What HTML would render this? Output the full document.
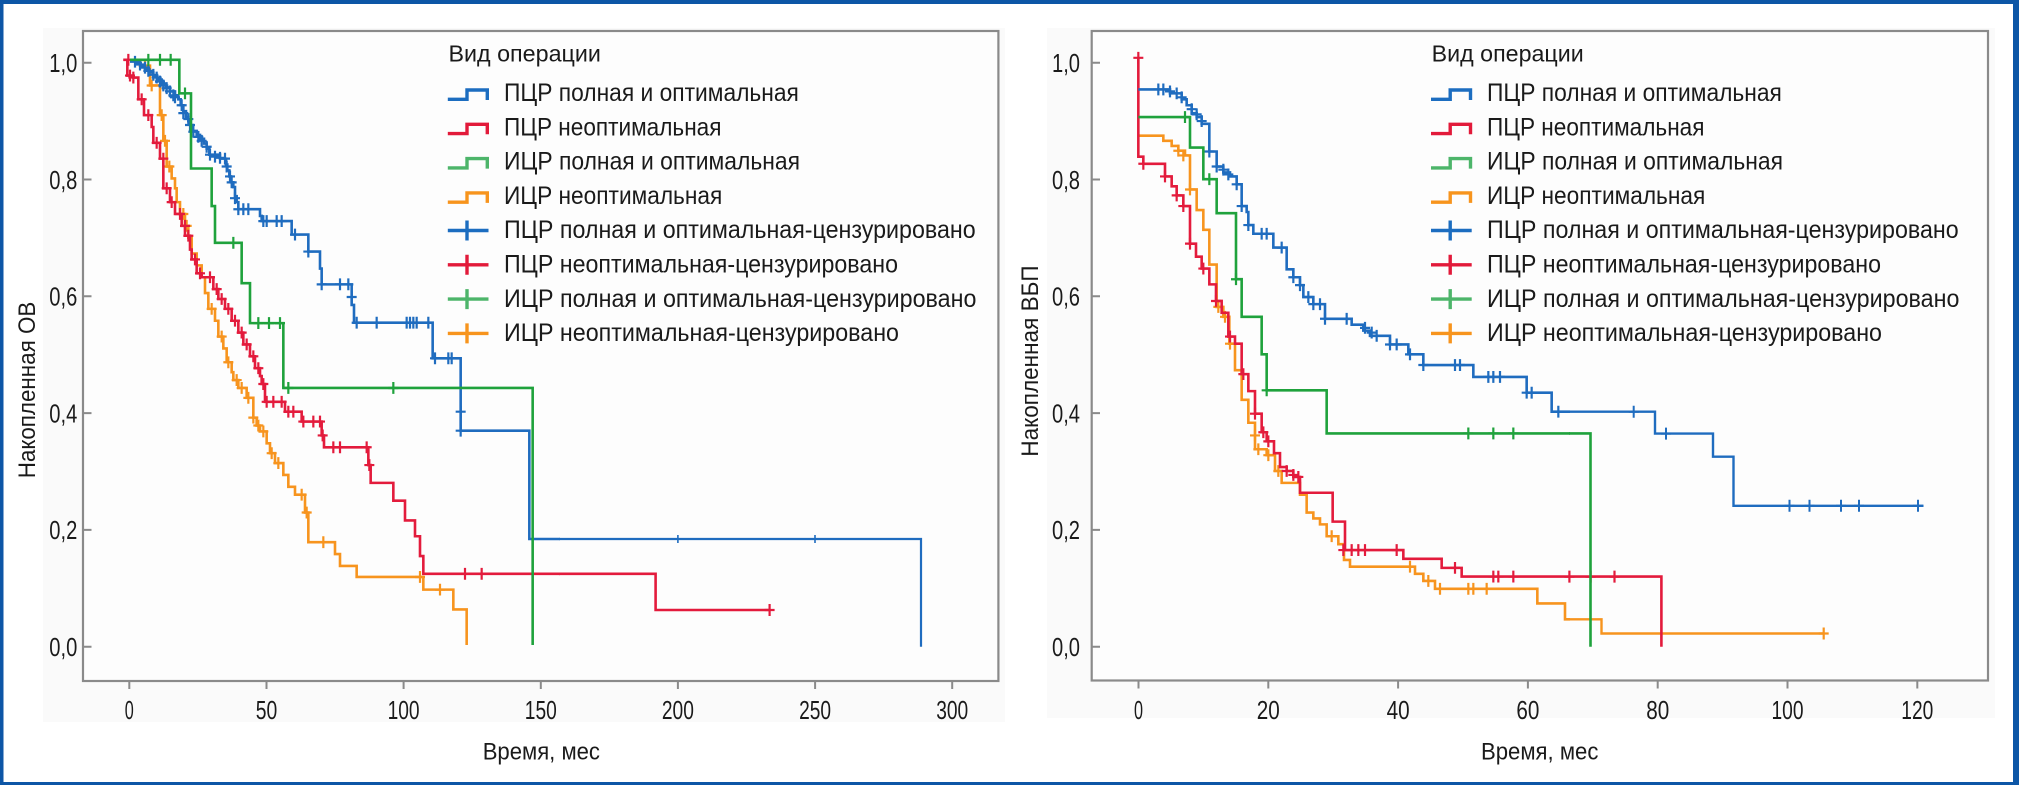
<!DOCTYPE html>
<html><head><meta charset="utf-8"><style>
html,body{margin:0;padding:0;background:#fff;}
body{width:2019px;height:785px;overflow:hidden;}
svg{display:block;}
text{font-family:"Liberation Sans","DejaVu Sans",sans-serif;fill:#1a1a1a;}
.c{fill:none;stroke-linejoin:miter;stroke-linecap:butt;}
</style></head><body>
<svg width="2019" height="785" viewBox="0 0 2019 785" xmlns="http://www.w3.org/2000/svg">
<rect x="0" y="0" width="2019" height="785" fill="#fff"/>
<rect x="43" y="28" width="962" height="694" fill="#fafafa"/>
<rect x="1047" y="28" width="948" height="690" fill="#fafafa"/>

<!-- LEFT CHART -->
<rect x="83" y="31" width="915.4" height="650" fill="#fdfdfd" stroke="#8a8a8a" stroke-width="2.2"/>
<g stroke="#8a8a8a" stroke-width="2">
<path d="M83,62.7H91.5M83,179.5H91.5M83,296.3H91.5M83,413.1H91.5M83,529.9H91.5M83,646.7H91.5"/>
<path d="M129.3,681V689M266.5,681V689M403.6,681V689M540.8,681V689M677.9,681V689M815.1,681V689M952.2,681V689"/>
</g>
<g font-size="26">
<text x="49.3" y="72" textLength="28" lengthAdjust="spacingAndGlyphs">1,0</text>
<text x="49.3" y="188.8" textLength="28" lengthAdjust="spacingAndGlyphs">0,8</text>
<text x="49.3" y="305.6" textLength="28" lengthAdjust="spacingAndGlyphs">0,6</text>
<text x="49.3" y="422.4" textLength="28" lengthAdjust="spacingAndGlyphs">0,4</text>
<text x="49.3" y="539.2" textLength="28" lengthAdjust="spacingAndGlyphs">0,2</text>
<text x="49.3" y="656" textLength="28" lengthAdjust="spacingAndGlyphs">0,0</text>
<text x="124.8" y="719" textLength="9" lengthAdjust="spacingAndGlyphs">0</text>
<text x="255.8" y="719" textLength="21.5" lengthAdjust="spacingAndGlyphs">50</text>
<text x="387.6" y="719" textLength="32" lengthAdjust="spacingAndGlyphs">100</text>
<text x="524.8" y="719" textLength="32" lengthAdjust="spacingAndGlyphs">150</text>
<text x="661.9" y="719" textLength="32" lengthAdjust="spacingAndGlyphs">200</text>
<text x="799.1" y="719" textLength="32" lengthAdjust="spacingAndGlyphs">250</text>
<text x="936.2" y="719" textLength="32" lengthAdjust="spacingAndGlyphs">300</text>
</g>
<text x="482.7" y="759.3" font-size="24" textLength="117.3" lengthAdjust="spacingAndGlyphs">Время, мес</text>
<text transform="translate(35,478.3) rotate(-90)" font-size="24.5" textLength="176.6" lengthAdjust="spacingAndGlyphs">Накопленная ОВ</text>

<g transform="translate(120,40) scale(0.333333,0.395413)">
<path class="c" vector-effect="non-scaling-stroke" stroke="#f7941e" stroke-width="2.6" d="M30,50H60V65H90V115H120V190H130V255H140V320H155V350H165V375H170V410H180V440H195V470H205V500H215V540H230V570H245V600H255V640H265V680H285V710H295V750H310V780H320V815H335V840H340V860H355V880H380V905H400V955H410V975H420V990H440V1020H450V1045H465V1070H490V1100H505V1130H525V1150H555V1195H565V1270H645V1300H660V1330H710V1358H910V1390H1000V1440H1040V1530"/>
<path class="c" vector-effect="non-scaling-stroke" stroke="#f7941e" stroke-width="2.2" d="M75,65m-15,0h30m-15,-15v30M95,115m-15,0h30m-15,-15v30M125,190m-15,0h30m-15,-15v30M135,255m-15,0h30m-15,-15v30M148,320m-15,0h30m-15,-15v30M190,440m-15,0h30m-15,-15v30M200,470m-15,0h30m-15,-15v30M275,680m-15,0h30m-15,-15v30M305,750m-15,0h30m-15,-15v30M325,815m-15,0h30m-15,-15v30M350,860m-15,0h30m-15,-15v30M365,880m-15,0h30m-15,-15v30M385,905m-15,0h30m-15,-15v30M400,955m-15,0h30m-15,-15v30M415,975m-15,0h30m-15,-15v30M430,990m-15,0h30m-15,-15v30M455,1045m-15,0h30m-15,-15v30M475,1070m-15,0h30m-15,-15v30M545,1150m-15,0h30m-15,-15v30M560,1195m-15,0h30m-15,-15v30M610,1270m-15,0h30m-15,-15v30M900,1358m-15,0h30m-15,-15v30M960,1390m-15,0h30m-15,-15v30"/>
<path class="c" vector-effect="non-scaling-stroke" stroke="#e31b3c" stroke-width="2.6" d="M10,50H22V90H40V95H55V150H72V190H95V220H100V260H120V300H130V375H150V410H165V440H185V470H195V495H210V530H215V555H230V590H245V600H280V630H295V655H315V680H335V710H355V740H370V770H390V800H405V830H420V850H425V870H435V915H495V940H545V965H605V1000H612V1030H745V1075H752V1120H820V1165H855V1215H885V1255H900V1305H910V1350H1320"/>
<path class="c" vector-effect="non-scaling-stroke" stroke="#e31b3c" stroke-width="2.2" d="M25,50m-15,0h30m-15,-15v30M30,90m-15,0h30m-15,-15v30M40,95m-15,0h30m-15,-15v30M65,150m-15,0h30m-15,-15v30M85,190m-15,0h30m-15,-15v30M110,260m-15,0h30m-15,-15v30M130,300m-15,0h30m-15,-15v30M140,375m-15,0h30m-15,-15v30M155,410m-15,0h30m-15,-15v30M180,440m-15,0h30m-15,-15v30M195,470m-15,0h30m-15,-15v30M205,495m-15,0h30m-15,-15v30M225,555m-15,0h30m-15,-15v30M240,590m-15,0h30m-15,-15v30M270,600m-15,0h30m-15,-15v30M290,630m-15,0h30m-15,-15v30M305,655m-15,0h30m-15,-15v30M325,680m-15,0h30m-15,-15v30M345,710m-15,0h30m-15,-15v30M365,740m-15,0h30m-15,-15v30M380,770m-15,0h30m-15,-15v30M400,800m-15,0h30m-15,-15v30M415,830m-15,0h30m-15,-15v30M430,870m-15,0h30m-15,-15v30M440,915m-15,0h30m-15,-15v30M460,915m-15,0h30m-15,-15v30M485,915m-15,0h30m-15,-15v30M505,940m-15,0h30m-15,-15v30M520,940m-15,0h30m-15,-15v30M550,965m-15,0h30m-15,-15v30M580,965m-15,0h30m-15,-15v30M600,965m-15,0h30m-15,-15v30M608,1000m-15,0h30m-15,-15v30M640,1030m-15,0h30m-15,-15v30M660,1030m-15,0h30m-15,-15v30M740,1030m-15,0h30m-15,-15v30M748,1075m-15,0h30m-15,-15v30M1035,1350m-15,0h30m-15,-15v30M1085,1350m-15,0h30m-15,-15v30"/>
<path class="c" vector-effect="non-scaling-stroke" stroke="#1f6cbf" stroke-width="2.6" d="M35,50H50V58H62V66H75V74H88V82H100V92H112V100H125V110H138V120H150V130H165V140H175V150H182V165H190V180H198V195H205V205H212V215H218V230H230V240H240V250H252V262H260V275H268V290H300V300H318V315H322V330H328V345H333V360H340V372H345V395H350V410H355V428H420V445H425V458H515V492H565V535H600V578H605V618H695V670H702V715H938V805H1022V988H1228V1262H1320"/>
<path class="c" vector-effect="non-scaling-stroke" stroke="#1f6cbf" stroke-width="2.2" d="M45,55m-15,0h30m-15,-15v30M60,62m-15,0h30m-15,-15v30M75,70m-15,0h30m-15,-15v30M85,78m-15,0h30m-15,-15v30M100,88m-15,0h30m-15,-15v30M110,95m-15,0h30m-15,-15v30M120,105m-15,0h30m-15,-15v30M130,115m-15,0h30m-15,-15v30M140,122m-15,0h30m-15,-15v30M150,130m-15,0h30m-15,-15v30M160,140m-15,0h30m-15,-15v30M165,145m-15,0h30m-15,-15v30M185,165m-15,0h30m-15,-15v30M190,185m-15,0h30m-15,-15v30M205,200m-15,0h30m-15,-15v30M210,215m-15,0h30m-15,-15v30M220,232m-15,0h30m-15,-15v30M235,245m-15,0h30m-15,-15v30M245,255m-15,0h30m-15,-15v30M260,270m-15,0h30m-15,-15v30M270,290m-15,0h30m-15,-15v30M285,295m-15,0h30m-15,-15v30M300,298m-15,0h30m-15,-15v30M315,300m-15,0h30m-15,-15v30M320,320m-15,0h30m-15,-15v30M330,345m-15,0h30m-15,-15v30M335,360m-15,0h30m-15,-15v30M345,400m-15,0h30m-15,-15v30M355,428m-15,0h30m-15,-15v30M370,428m-15,0h30m-15,-15v30M385,428m-15,0h30m-15,-15v30M430,458m-15,0h30m-15,-15v30M440,458m-15,0h30m-15,-15v30M470,458m-15,0h30m-15,-15v30M485,458m-15,0h30m-15,-15v30M525,492m-15,0h30m-15,-15v30M565,535m-15,0h30m-15,-15v30M605,618m-15,0h30m-15,-15v30M660,618m-15,0h30m-15,-15v30M685,618m-15,0h30m-15,-15v30M695,650m-15,0h30m-15,-15v30M710,715m-15,0h30m-15,-15v30M770,715m-15,0h30m-15,-15v30M860,715m-15,0h30m-15,-15v30M870,715m-15,0h30m-15,-15v30M880,715m-15,0h30m-15,-15v30M890,715m-15,0h30m-15,-15v30M925,715m-15,0h30m-15,-15v30M945,805m-15,0h30m-15,-15v30M985,805m-15,0h30m-15,-15v30M995,805m-15,0h30m-15,-15v30M1022,940m-15,0h30m-15,-15v30M1022,988m-15,0h30m-15,-15v30"/>
<path class="c" vector-effect="non-scaling-stroke" stroke="#1fa23c" stroke-width="2.6" d="M30,50H178V135H213V325H275V420H285V513H365V615H390V716H490V880H1238V1530"/>
<path class="c" vector-effect="non-scaling-stroke" stroke="#1fa23c" stroke-width="2.2" d="M85,50m-15,0h30m-15,-15v30M120,50m-15,0h30m-15,-15v30M152,50m-15,0h30m-15,-15v30M195,135m-15,0h30m-15,-15v30M340,513m-15,0h30m-15,-15v30M415,716m-15,0h30m-15,-15v30M447,716m-15,0h30m-15,-15v30M480,716m-15,0h30m-15,-15v30M505,880m-15,0h30m-15,-15v30M820,880m-15,0h30m-15,-15v30"/>
</g>
<!-- left tails -->
<path class="c" stroke="#1f6cbf" stroke-width="2.2" d="M559,539H921V646.7"/>
<path class="c" stroke="#1f6cbf" stroke-width="1.6" d="M677.9,535V543M815,535V543"/>
<path class="c" stroke="#e31b3c" stroke-width="2.6" d="M559,573.8H655.6V610H769.6"/>
<path class="c" stroke="#e31b3c" stroke-width="2.2" d="M764.6,610H774.6M769.6,604V616"/>

<!-- LEFT LEGEND -->
<text x="448.5" y="61.7" font-size="23" textLength="152.4" lengthAdjust="spacingAndGlyphs">Вид операции</text>
<g class="c" stroke-width="3.4">
<path stroke="#1c6dc0" d="M447.8,99.3H467V90H487.3V100"/>
<path stroke="#e21a3a" d="M447.8,133.6H467V124.3H487.3V134.3"/>
<path stroke="#4db56a" d="M447.8,167.9H467V158.6H487.3V168.6"/>
<path stroke="#f7941d" d="M447.8,202.2H467V192.9H487.3V202.9"/>
<path stroke="#1c6dc0" d="M447.8,230.5H488.5M467,220.5V240.5"/>
<path stroke="#e21a3a" d="M447.8,264.8H488.5M467,254.8V274.8"/>
<path stroke="#4db56a" d="M447.8,299.1H488.5M467,289.1V309.1"/>
<path stroke="#f7941d" d="M447.8,333.4H488.5M467,323.4V343.4"/>
</g>
<g font-size="25">
<text x="504" y="101" textLength="294.9" lengthAdjust="spacingAndGlyphs">ПЦР полная и оптимальная</text>
<text x="504" y="135.3" textLength="217.5" lengthAdjust="spacingAndGlyphs">ПЦР неоптимальная</text>
<text x="504" y="169.6" textLength="296" lengthAdjust="spacingAndGlyphs">ИЦР полная и оптимальная</text>
<text x="504" y="203.9" textLength="218.3" lengthAdjust="spacingAndGlyphs">ИЦР неоптимальная</text>
<text x="504" y="238.2" textLength="471.7" lengthAdjust="spacingAndGlyphs">ПЦР полная и оптимальная-цензурировано</text>
<text x="504" y="272.5" textLength="394" lengthAdjust="spacingAndGlyphs">ПЦР неоптимальная-цензурировано</text>
<text x="504" y="306.8" textLength="472.4" lengthAdjust="spacingAndGlyphs">ИЦР полная и оптимальная-цензурировано</text>
<text x="504" y="341.1" textLength="395" lengthAdjust="spacingAndGlyphs">ИЦР неоптимальная-цензурировано</text>
</g>

<!-- RIGHT CHART -->
<rect x="1091.7" y="31" width="896.3" height="649.5" fill="#fdfdfd" stroke="#8a8a8a" stroke-width="2.2"/>
<g stroke="#8a8a8a" stroke-width="2">
<path d="M1091.7,62.7H1100M1091.7,179.5H1100M1091.7,296.3H1100M1091.7,413.1H1100M1091.7,529.9H1100M1091.7,646.7H1100"/>
<path d="M1138.5,680.5V688.5M1268.3,680.5V688.5M1398.1,680.5V688.5M1527.9,680.5V688.5M1657.7,680.5V688.5M1787.5,680.5V688.5M1917.3,680.5V688.5"/>
</g>
<g font-size="26">
<text x="1052" y="72" textLength="28" lengthAdjust="spacingAndGlyphs">1,0</text>
<text x="1052" y="188.8" textLength="28" lengthAdjust="spacingAndGlyphs">0,8</text>
<text x="1052" y="305.6" textLength="28" lengthAdjust="spacingAndGlyphs">0,6</text>
<text x="1052" y="422.4" textLength="28" lengthAdjust="spacingAndGlyphs">0,4</text>
<text x="1052" y="539.2" textLength="28" lengthAdjust="spacingAndGlyphs">0,2</text>
<text x="1052" y="656" textLength="28" lengthAdjust="spacingAndGlyphs">0,0</text>
<text x="1134" y="719" textLength="9" lengthAdjust="spacingAndGlyphs">0</text>
<text x="1256.8" y="719" textLength="23" lengthAdjust="spacingAndGlyphs">20</text>
<text x="1386.6" y="719" textLength="23" lengthAdjust="spacingAndGlyphs">40</text>
<text x="1516.4" y="719" textLength="23" lengthAdjust="spacingAndGlyphs">60</text>
<text x="1646.2" y="719" textLength="23" lengthAdjust="spacingAndGlyphs">80</text>
<text x="1771.5" y="719" textLength="32" lengthAdjust="spacingAndGlyphs">100</text>
<text x="1901.3" y="719" textLength="32" lengthAdjust="spacingAndGlyphs">120</text>
</g>
<text x="1481" y="759.3" font-size="24" textLength="117.4" lengthAdjust="spacingAndGlyphs">Время, мес</text>
<text transform="translate(1038,456.7) rotate(-90)" font-size="24.5" textLength="191.3" lengthAdjust="spacingAndGlyphs">Накопленная ВБП</text>

<g transform="translate(1130,40) scale(0.333333,0.395413)">
<path class="c" vector-effect="non-scaling-stroke" stroke="#f7941e" stroke-width="2.6" d="M25,242H100V255H125V268H145V280H165V292H180V378H200V430H220V480H238V568H260V675H280V700H298V768H315V835H335V910H355V968H375V1035H410V1050H435V1090H455V1120H510V1150H530V1195H550V1210H570V1225H590V1255H625V1275H642V1315H660V1332H855V1350H880V1368H915V1388H1222V1425H1305V1465H1320"/>
<path class="c" vector-effect="non-scaling-stroke" stroke="#f7941e" stroke-width="2.2" d="M145,280m-15,0h30m-15,-15v30M160,292m-15,0h30m-15,-15v30M180,378m-15,0h30m-15,-15v30M265,675m-15,0h30m-15,-15v30M285,700m-15,0h30m-15,-15v30M300,768m-15,0h30m-15,-15v30M375,1000m-15,0h30m-15,-15v30M385,1035m-15,0h30m-15,-15v30M415,1050m-15,0h30m-15,-15v30M445,1090m-15,0h30m-15,-15v30M605,1255m-15,0h30m-15,-15v30M840,1332m-15,0h30m-15,-15v30M895,1368m-15,0h30m-15,-15v30M930,1388m-15,0h30m-15,-15v30M1015,1388m-15,0h30m-15,-15v30M1030,1388m-15,0h30m-15,-15v30M1070,1388m-15,0h30m-15,-15v30"/>
<path class="c" vector-effect="non-scaling-stroke" stroke="#e31b3c" stroke-width="2.6" d="M25,45V295H40V313H105V345H125V370H140V393H160V420H180V515H198V548H215V578H238V618H258V660H275V690H295V750H315V768H335V845H355V888H375V945H395V992H410V1015H432V1045H450V1080H470V1090H490V1105H510V1145H608V1218H645V1290H820V1312H935V1335H995V1357H1320"/>
<path class="c" vector-effect="non-scaling-stroke" stroke="#e31b3c" stroke-width="2.2" d="M25,45m-15,0h30m-15,-15v30M40,313m-15,0h30m-15,-15v30M105,345m-15,0h30m-15,-15v30M140,393m-15,0h30m-15,-15v30M160,420m-15,0h30m-15,-15v30M180,515m-15,0h30m-15,-15v30M220,578m-15,0h30m-15,-15v30M258,660m-15,0h30m-15,-15v30M300,750m-15,0h30m-15,-15v30M340,845m-15,0h30m-15,-15v30M375,945m-15,0h30m-15,-15v30M400,992m-15,0h30m-15,-15v30M415,1015m-15,0h30m-15,-15v30M470,1090m-15,0h30m-15,-15v30M490,1100m-15,0h30m-15,-15v30M505,1105m-15,0h30m-15,-15v30M640,1290m-15,0h30m-15,-15v30M665,1290m-15,0h30m-15,-15v30M685,1290m-15,0h30m-15,-15v30M705,1290m-15,0h30m-15,-15v30M800,1290m-15,0h30m-15,-15v30M975,1335m-15,0h30m-15,-15v30M1090,1357m-15,0h30m-15,-15v30M1105,1357m-15,0h30m-15,-15v30M1150,1357m-15,0h30m-15,-15v30"/>
<path class="c" vector-effect="non-scaling-stroke" stroke="#1f6cbf" stroke-width="2.6" d="M25,125H120V135H155V150H170V165H185V185H200V195H215V212H238V282H260V320H280V335H300V345H320V365H335V420H350V435H355V468H370V490H430V525H470V580H490V600H510V620H520V650H550V668H585V705H665V720H700V735H720V748H780V770H835V795H880V822H1030V852H1190V892H1265V940H1320"/>
<path class="c" vector-effect="non-scaling-stroke" stroke="#1f6cbf" stroke-width="2.2" d="M85,125m-15,0h30m-15,-15v30M100,125m-15,0h30m-15,-15v30M120,130m-15,0h30m-15,-15v30M140,135m-15,0h30m-15,-15v30M155,145m-15,0h30m-15,-15v30M185,175m-15,0h30m-15,-15v30M200,188m-15,0h30m-15,-15v30M215,205m-15,0h30m-15,-15v30M238,282m-15,0h30m-15,-15v30M260,320m-15,0h30m-15,-15v30M280,328m-15,0h30m-15,-15v30M295,340m-15,0h30m-15,-15v30M320,365m-15,0h30m-15,-15v30M335,420m-15,0h30m-15,-15v30M355,468m-15,0h30m-15,-15v30M395,490m-15,0h30m-15,-15v30M410,490m-15,0h30m-15,-15v30M455,525m-15,0h30m-15,-15v30M490,600m-15,0h30m-15,-15v30M510,620m-15,0h30m-15,-15v30M535,650m-15,0h30m-15,-15v30M550,668m-15,0h30m-15,-15v30M570,668m-15,0h30m-15,-15v30M585,705m-15,0h30m-15,-15v30M650,705m-15,0h30m-15,-15v30M705,728m-15,0h30m-15,-15v30M725,740m-15,0h30m-15,-15v30M740,748m-15,0h30m-15,-15v30M780,770m-15,0h30m-15,-15v30M800,770m-15,0h30m-15,-15v30M840,795m-15,0h30m-15,-15v30M880,822m-15,0h30m-15,-15v30M975,822m-15,0h30m-15,-15v30M990,822m-15,0h30m-15,-15v30M1075,852m-15,0h30m-15,-15v30M1090,852m-15,0h30m-15,-15v30M1110,852m-15,0h30m-15,-15v30M1190,892m-15,0h30m-15,-15v30M1205,892m-15,0h30m-15,-15v30M1285,940m-15,0h30m-15,-15v30"/>
<path class="c" vector-effect="non-scaling-stroke" stroke="#1fa23c" stroke-width="2.6" d="M25,195H180V272H220V352H260V438H318V605H335V700H395V795H410V886H590V995H1320"/>
<path class="c" vector-effect="non-scaling-stroke" stroke="#1fa23c" stroke-width="2.2" d="M165,195m-15,0h30m-15,-15v30M238,352m-15,0h30m-15,-15v30M318,605m-15,0h30m-15,-15v30M410,886m-15,0h30m-15,-15v30M1015,995m-15,0h30m-15,-15v30M1090,995m-15,0h30m-15,-15v30M1150,995m-15,0h30m-15,-15v30"/>
</g>
<!-- right tails -->
<path class="c" stroke="#f7941e" stroke-width="2.4" d="M1569,619.3H1601.5V633.5H1823.7"/>
<path class="c" stroke="#f7941e" stroke-width="2.2" d="M1818.7,633.5H1828.7M1823.7,627.5V639.5"/>
<path class="c" stroke="#e31b3c" stroke-width="2.6" d="M1569,576.6H1661.4V646.7"/>
<path class="c" stroke="#e31b3c" stroke-width="2.2" d="M1564.4,576.6H1574.4M1569.4,570.6V582.6M1585.6,576.6H1595.6M1590.6,570.6V582.6M1609.5,576.6H1619.5M1614.5,570.6V582.6"/>
<path class="c" stroke="#1f6cbf" stroke-width="2.4" d="M1569,411.7H1655V433.6H1713V456.7H1733.5V505.8H1923.5"/>
<path class="c" stroke="#1f6cbf" stroke-width="2" d="M1628.7,411.7H1638.7M1633.7,405.7V417.7M1661,433.6H1671M1666,427.6V439.6M1784.5,505.8H1794.5M1789.5,499.8V511.8M1804.5,505.8H1814.5M1809.5,499.8V511.8M1836,505.8H1846M1841,499.8V511.8M1854,505.8H1864M1859,499.8V511.8M1913,505.8H1923M1918,499.8V511.8"/>
<path class="c" stroke="#1fa23c" stroke-width="2.6" d="M1569,433.4H1590.5V646.7"/>

<!-- RIGHT LEGEND -->
<text x="1431.7" y="61.7" font-size="23" textLength="152" lengthAdjust="spacingAndGlyphs">Вид операции</text>
<g class="c" stroke-width="3.4">
<path stroke="#1c6dc0" d="M1431,99.3H1450.2V90H1470.5V100"/>
<path stroke="#e21a3a" d="M1431,133.6H1450.2V124.3H1470.5V134.3"/>
<path stroke="#4db56a" d="M1431,167.9H1450.2V158.6H1470.5V168.6"/>
<path stroke="#f7941d" d="M1431,202.2H1450.2V192.9H1470.5V202.9"/>
<path stroke="#1c6dc0" d="M1431,230.5H1471.7M1450.2,220.5V240.5"/>
<path stroke="#e21a3a" d="M1431,264.8H1471.7M1450.2,254.8V274.8"/>
<path stroke="#4db56a" d="M1431,299.1H1471.7M1450.2,289.1V309.1"/>
<path stroke="#f7941d" d="M1431,333.4H1471.7M1450.2,323.4V343.4"/>
</g>
<g font-size="25">
<text x="1487" y="101" textLength="294.9" lengthAdjust="spacingAndGlyphs">ПЦР полная и оптимальная</text>
<text x="1487" y="135.3" textLength="217.5" lengthAdjust="spacingAndGlyphs">ПЦР неоптимальная</text>
<text x="1487" y="169.6" textLength="296" lengthAdjust="spacingAndGlyphs">ИЦР полная и оптимальная</text>
<text x="1487" y="203.9" textLength="218.3" lengthAdjust="spacingAndGlyphs">ИЦР неоптимальная</text>
<text x="1487" y="238.2" textLength="471.7" lengthAdjust="spacingAndGlyphs">ПЦР полная и оптимальная-цензурировано</text>
<text x="1487" y="272.5" textLength="394" lengthAdjust="spacingAndGlyphs">ПЦР неоптимальная-цензурировано</text>
<text x="1487" y="306.8" textLength="472.4" lengthAdjust="spacingAndGlyphs">ИЦР полная и оптимальная-цензурировано</text>
<text x="1487" y="341.1" textLength="395" lengthAdjust="spacingAndGlyphs">ИЦР неоптимальная-цензурировано</text>
</g>

<!-- FRAME -->
<rect x="0" y="0" width="2019" height="4" fill="#0d56a6"/>
<rect x="0" y="0" width="3.5" height="785" fill="#0d56a6"/>
<rect x="0" y="782" width="2019" height="3" fill="#0d56a6"/>
<rect x="2013" y="0" width="6" height="785" fill="#0d56a6"/>
</svg>
</body></html>
